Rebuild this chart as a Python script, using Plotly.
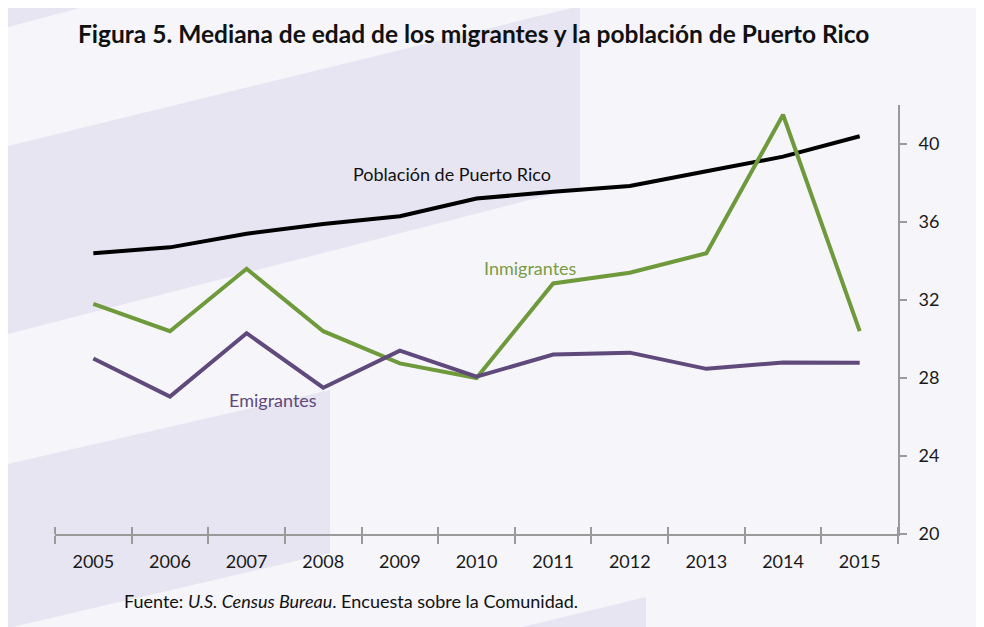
import plotly.graph_objects as go

years = [2005, 2006, 2007, 2008, 2009, 2010, 2011, 2012, 2013, 2014, 2015]
poblacion = [34.4, 34.7, 35.4, 35.9, 36.3, 37.2, 37.55, 37.85, 38.6, 39.35, 40.4]
inmigrantes = [31.8, 30.4, 33.6, 30.4, 28.75, 28.0, 32.85, 33.4, 34.4, 41.5, 30.4]
emigrantes = [29.0, 27.05, 30.3, 27.5, 29.4, 28.07, 29.2, 29.3, 28.47, 28.8, 28.78]
y_ticks = [20, 24, 28, 32, 36, 40]

# page offset of the figure (body margin) is 8px
OFF = 8
W, H = 984 - OFF, 627 - OFF
PL, PR, PT, PB = 55, 898, 105, 534          # plot area in page pixels
L, R, T, B = PL - OFF, W - (PR - OFF), PT - OFF, H - (PB - OFF)
PW, PH = PR - PL, PB - PT

BG = "#f5f5fa"
BAND = "#e7e5f2"
FONT = "Lato, 'Open Sans', sans-serif"

def px(x, y):
    return (x - PL) / PW, (PB - y) / PH

def poly(points):
    pts = [px(x, y) for x, y in points]
    d = "M " + " L ".join(f"{a:.5f},{b:.5f}" for a, b in pts) + " Z"
    return dict(type="path", xref="paper", yref="paper", path=d,
                fillcolor=BAND, line=dict(width=0), layer="below")

shapes = [
    poly([(8, 8), (80, 8), (8, 27)]),
    poly([(8, 146), (580, 6), (580, 187), (8, 334)]),
    poly([(8, 464), (330, 390), (330, 553), (8, 628)]),
    poly([(518, 628), (646, 597), (646, 628)]),
]

fig = go.Figure()
fig.add_trace(go.Scatter(x=years, y=poblacion, mode="lines", name="Población de Puerto Rico",
                         line=dict(color="#000000", width=4)))
fig.add_trace(go.Scatter(x=years, y=inmigrantes, mode="lines", name="Inmigrantes",
                         line=dict(color="#6e9a3c", width=4)))
fig.add_trace(go.Scatter(x=years, y=emigrantes, mode="lines", name="Emigrantes",
                         line=dict(color="#5f4a7b", width=4)))
# overlay axis for the inside half of the x ticks
fig.add_trace(go.Scatter(x=[years[0]], y=[None], xaxis="x2", yaxis="y", showlegend=False,
                         hoverinfo="skip"))

xr = [years[0] - 0.5, years[-1] + 0.5]
fig.update_layout(
    width=W, height=H,
    margin=dict(l=L, r=R, t=T, b=B),
    paper_bgcolor=BG, plot_bgcolor="rgba(0,0,0,0)",
    showlegend=False,
    font=dict(family=FONT, size=18, color="#1a1a1a"),
    shapes=shapes,
    xaxis=dict(range=xr, tickmode="array", tickvals=years, ticktext=[str(y) for y in years],
               ticks="", showgrid=False, zeroline=False, ticklabelstandoff=10,
               showline=True, linecolor="#9a9a9a", linewidth=2,
               tickfont=dict(size=18, color="#1a1a1a"),
               minor=dict(tickmode="linear", tick0=xr[0], dtick=1, ticks="outside",
                          ticklen=8, tickwidth=2, tickcolor="#9a9a9a", showgrid=False)),
    xaxis2=dict(range=xr, overlaying="x", anchor="y", side="bottom",
                showticklabels=False, ticks="", showgrid=False, zeroline=False, showline=False,
                minor=dict(tickmode="linear", tick0=xr[0], dtick=1, ticks="inside",
                           ticklen=7, tickwidth=2, tickcolor="#9a9a9a", showgrid=False)),
    yaxis=dict(range=[20, 42], side="right", tickmode="array", tickvals=y_ticks,
               ticks="outside", ticklen=7, tickwidth=2, tickcolor="#9a9a9a",
               showline=True, linecolor="#9a9a9a", linewidth=2,
               showgrid=False, zeroline=False, ticklabelstandoff=8,
               tickfont=dict(size=18, color="#1a1a1a")),
    annotations=[
        dict(text="<b>Figura 5. Mediana de edad de los migrantes y la población de Puerto Rico</b>",
             xref="paper", yref="paper", x=px(473, 0)[0], y=px(0, 34)[1],
             xanchor="center", yanchor="middle", showarrow=False,
             font=dict(size=24.5, color="#111111", family=FONT)),
        dict(text="Población de Puerto Rico", x=2009.68, y=38.46, xref="x", yref="y",
             showarrow=False, font=dict(size=18, color="#111111")),
        dict(text="Inmigrantes", x=2010.71, y=33.64, xref="x", yref="y",
             showarrow=False, font=dict(size=18, color="#7a9c45")),
        dict(text="Emigrantes", x=2007.35, y=26.87, xref="x", yref="y",
             showarrow=False, font=dict(size=18, color="#5f4a7b")),
        dict(text="Fuente: <i>U.S. Census Bureau</i>. Encuesta sobre la Comunidad.",
             xref="paper", yref="paper", x=px(122, 0)[0], y=px(0, 601)[1],
             xanchor="left", yanchor="middle", showarrow=False,
             font=dict(size=18, color="#111111")),
    ],
)

fig.write_html("out.html")
